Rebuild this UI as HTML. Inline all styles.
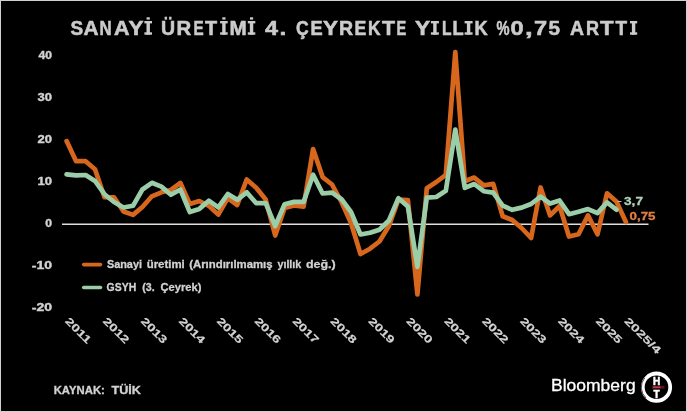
<!DOCTYPE html>
<html><head><meta charset="utf-8"><style>
html,body{margin:0;padding:0;background:#000;}
body{width:687px;height:412px;overflow:hidden;}
svg{display:block;will-change:transform;}
text{font-family:"Liberation Sans", sans-serif;}
.xl{font-size:10.5px;font-weight:bold;fill:#d2d2d2;stroke:#d2d2d2;stroke-width:0.2}
</style></head><body>
<svg width="687" height="412" viewBox="0 0 687 412">
<rect x="0" y="0" width="687" height="412" fill="#000"/>
<rect x="0.5" y="0.5" width="686" height="411" fill="none" stroke="#d0d0d0" stroke-width="1"/>
<line x1="62" y1="224.3" x2="648.5" y2="224.3" stroke="#dedede" stroke-width="1.4"/>
<polyline points="66.6,141.1 76.1,161.2 85.6,161.2 95.0,169.3 104.5,197.2 114.0,197.3 123.5,211.5 133.0,214.9 142.4,207.0 151.9,196.3 161.4,192.3 170.9,190.0 180.4,182.9 189.8,204.0 199.3,201.0 208.8,205.8 218.3,214.6 227.8,198.0 237.2,205.0 246.7,179.5 256.2,187.7 265.7,199.5 275.2,235.5 284.6,208.0 294.1,205.5 303.6,206.7 313.1,149.0 322.6,177.1 332.0,184.5 341.5,202.0 351.0,223.0 360.5,254.0 370.0,248.7 379.4,241.5 388.9,226.0 398.4,199.6 407.9,200.0 417.4,294.5 426.8,188.2 436.3,182.0 445.8,174.8 455.3,52.2 464.8,181.3 474.2,177.5 483.7,185.4 493.2,183.9 502.7,216.3 512.2,220.0 521.6,228.0 531.1,238.0 540.6,187.5 550.1,215.4 559.6,206.0 569.0,236.5 578.5,234.3 588.0,215.4 597.5,234.3 607.0,193.3 616.4,201.5 625.9,222.0" fill="none" stroke="#d7671d" stroke-width="4.7" stroke-linejoin="round" stroke-linecap="round"/>
<polyline points="66.6,174.3 76.1,175.4 85.6,175.0 95.0,181.0 104.5,194.2 114.0,202.0 123.5,207.5 133.0,205.8 142.4,189.5 151.9,182.8 161.4,186.6 170.9,194.8 180.4,189.5 189.8,212.0 199.3,208.9 208.8,200.7 218.3,207.4 227.8,194.0 237.2,199.8 246.7,192.3 256.2,203.2 265.7,203.2 275.2,226.0 284.6,204.3 294.1,201.9 303.6,201.9 313.1,174.7 322.6,193.5 332.0,192.6 341.5,199.2 351.0,212.0 360.5,234.5 370.0,232.7 379.4,229.7 388.9,220.5 398.4,198.2 407.9,206.6 417.4,267.0 426.8,197.6 436.3,197.0 445.8,190.8 455.3,129.5 464.8,187.9 474.2,184.0 483.7,191.2 493.2,192.6 502.7,205.7 512.2,209.8 521.6,207.6 531.1,204.0 540.6,196.6 550.1,203.6 559.6,200.5 569.0,214.2 578.5,211.8 588.0,209.1 597.5,213.1 607.0,202.4 616.4,209.7" fill="none" stroke="#9ccda9" stroke-width="4.7" stroke-linejoin="round" stroke-linecap="round"/>
<line x1="617.5" y1="201.5" x2="621.5" y2="201.5" stroke="#9ccda9" stroke-width="1"/>
<line x1="83.7" y1="264.6" x2="100.5" y2="264.6" stroke="#d7671d" stroke-width="3.6" stroke-linecap="round"/>
<line x1="83.7" y1="287.5" x2="100.5" y2="287.5" stroke="#9ccda9" stroke-width="3.6" stroke-linecap="round"/>
<text x="70.50" y="34.9" textLength="12.69" lengthAdjust="spacingAndGlyphs" style="font-size:19.5px;font-weight:bold;fill:#cbcbcb;stroke:#cbcbcb;stroke-width:0.55">S</text>
<text x="83.50" y="34.9" textLength="15.04" lengthAdjust="spacingAndGlyphs" style="font-size:19.5px;font-weight:bold;fill:#cbcbcb;stroke:#cbcbcb;stroke-width:0.55">A</text>
<text x="99.50" y="34.9" textLength="12.20" lengthAdjust="spacingAndGlyphs" style="font-size:19.5px;font-weight:bold;fill:#cbcbcb;stroke:#cbcbcb;stroke-width:0.55">N</text>
<text x="114.00" y="34.9" textLength="15.54" lengthAdjust="spacingAndGlyphs" style="font-size:19.5px;font-weight:bold;fill:#cbcbcb;stroke:#cbcbcb;stroke-width:0.55">A</text>
<text x="128.50" y="34.9" textLength="15.03" lengthAdjust="spacingAndGlyphs" style="font-size:19.5px;font-weight:bold;fill:#cbcbcb;stroke:#cbcbcb;stroke-width:0.55">Y</text>
<text x="161.00" y="34.9" textLength="14.12" lengthAdjust="spacingAndGlyphs" style="font-size:19.5px;font-weight:bold;fill:#cbcbcb;stroke:#cbcbcb;stroke-width:0.55">Ü</text>
<text x="176.50" y="34.9" textLength="14.71" lengthAdjust="spacingAndGlyphs" style="font-size:19.5px;font-weight:bold;fill:#cbcbcb;stroke:#cbcbcb;stroke-width:0.55">R</text>
<text x="193.50" y="34.9" textLength="10.15" lengthAdjust="spacingAndGlyphs" style="font-size:19.5px;font-weight:bold;fill:#cbcbcb;stroke:#cbcbcb;stroke-width:0.55">E</text>
<text x="205.00" y="34.9" textLength="12.12" lengthAdjust="spacingAndGlyphs" style="font-size:19.5px;font-weight:bold;fill:#cbcbcb;stroke:#cbcbcb;stroke-width:0.55">T</text>
<text x="229.50" y="34.9" textLength="17.19" lengthAdjust="spacingAndGlyphs" style="font-size:19.5px;font-weight:bold;fill:#cbcbcb;stroke:#cbcbcb;stroke-width:0.55">M</text>
<text x="265.00" y="34.9" textLength="13.04" lengthAdjust="spacingAndGlyphs" style="font-size:19.5px;font-weight:bold;fill:#cbcbcb;stroke:#cbcbcb;stroke-width:0.55">4</text>
<text x="279.50" y="34.9" textLength="6.87" lengthAdjust="spacingAndGlyphs" style="font-size:19.5px;font-weight:bold;fill:#cbcbcb;stroke:#cbcbcb;stroke-width:0.55">.</text>
<text x="296.00" y="34.9" textLength="12.68" lengthAdjust="spacingAndGlyphs" style="font-size:19.5px;font-weight:bold;fill:#cbcbcb;stroke:#cbcbcb;stroke-width:0.55">Ç</text>
<text x="310.50" y="34.9" textLength="12.17" lengthAdjust="spacingAndGlyphs" style="font-size:19.5px;font-weight:bold;fill:#cbcbcb;stroke:#cbcbcb;stroke-width:0.55">E</text>
<text x="323.00" y="34.9" textLength="15.03" lengthAdjust="spacingAndGlyphs" style="font-size:19.5px;font-weight:bold;fill:#cbcbcb;stroke:#cbcbcb;stroke-width:0.55">Y</text>
<text x="339.00" y="34.9" textLength="14.11" lengthAdjust="spacingAndGlyphs" style="font-size:19.5px;font-weight:bold;fill:#cbcbcb;stroke:#cbcbcb;stroke-width:0.55">R</text>
<text x="354.50" y="34.9" textLength="11.80" lengthAdjust="spacingAndGlyphs" style="font-size:19.5px;font-weight:bold;fill:#cbcbcb;stroke:#cbcbcb;stroke-width:0.55">E</text>
<text x="368.00" y="34.9" textLength="12.53" lengthAdjust="spacingAndGlyphs" style="font-size:19.5px;font-weight:bold;fill:#cbcbcb;stroke:#cbcbcb;stroke-width:0.55">K</text>
<text x="382.00" y="34.9" textLength="13.03" lengthAdjust="spacingAndGlyphs" style="font-size:19.5px;font-weight:bold;fill:#cbcbcb;stroke:#cbcbcb;stroke-width:0.55">T</text>
<text x="396.50" y="34.9" textLength="9.75" lengthAdjust="spacingAndGlyphs" style="font-size:19.5px;font-weight:bold;fill:#cbcbcb;stroke:#cbcbcb;stroke-width:0.55">E</text>
<text x="415.00" y="34.9" textLength="15.11" lengthAdjust="spacingAndGlyphs" style="font-size:19.5px;font-weight:bold;fill:#cbcbcb;stroke:#cbcbcb;stroke-width:0.55">Y</text>
<text x="442.00" y="34.9" textLength="9.55" lengthAdjust="spacingAndGlyphs" style="font-size:19.5px;font-weight:bold;fill:#cbcbcb;stroke:#cbcbcb;stroke-width:0.55">L</text>
<text x="452.50" y="34.9" textLength="11.16" lengthAdjust="spacingAndGlyphs" style="font-size:19.5px;font-weight:bold;fill:#cbcbcb;stroke:#cbcbcb;stroke-width:0.55">L</text>
<text x="474.50" y="34.9" textLength="13.18" lengthAdjust="spacingAndGlyphs" style="font-size:19.5px;font-weight:bold;fill:#cbcbcb;stroke:#cbcbcb;stroke-width:0.55">K</text>
<text x="496.50" y="34.9" textLength="13.03" lengthAdjust="spacingAndGlyphs" style="font-size:19.5px;font-weight:bold;fill:#cbcbcb;stroke:#cbcbcb;stroke-width:0.55">%</text>
<text x="510.50" y="34.9" textLength="13.09" lengthAdjust="spacingAndGlyphs" style="font-size:19.5px;font-weight:bold;fill:#cbcbcb;stroke:#cbcbcb;stroke-width:0.55">0</text>
<text x="525.00" y="34.9" textLength="7.66" lengthAdjust="spacingAndGlyphs" style="font-size:19.5px;font-weight:bold;fill:#cbcbcb;stroke:#cbcbcb;stroke-width:0.55">,</text>
<text x="534.00" y="34.9" textLength="13.13" lengthAdjust="spacingAndGlyphs" style="font-size:19.5px;font-weight:bold;fill:#cbcbcb;stroke:#cbcbcb;stroke-width:0.55">7</text>
<text x="548.50" y="34.9" textLength="11.54" lengthAdjust="spacingAndGlyphs" style="font-size:19.5px;font-weight:bold;fill:#cbcbcb;stroke:#cbcbcb;stroke-width:0.55">5</text>
<text x="570.00" y="34.9" textLength="14.03" lengthAdjust="spacingAndGlyphs" style="font-size:19.5px;font-weight:bold;fill:#cbcbcb;stroke:#cbcbcb;stroke-width:0.55">A</text>
<text x="586.00" y="34.9" textLength="13.05" lengthAdjust="spacingAndGlyphs" style="font-size:19.5px;font-weight:bold;fill:#cbcbcb;stroke:#cbcbcb;stroke-width:0.55">R</text>
<text x="600.00" y="34.9" textLength="13.59" lengthAdjust="spacingAndGlyphs" style="font-size:19.5px;font-weight:bold;fill:#cbcbcb;stroke:#cbcbcb;stroke-width:0.55">T</text>
<text x="615.50" y="34.9" textLength="11.57" lengthAdjust="spacingAndGlyphs" style="font-size:19.5px;font-weight:bold;fill:#cbcbcb;stroke:#cbcbcb;stroke-width:0.55">T</text>
<text x="38.60" y="59.0" textLength="13.47" lengthAdjust="spacingAndGlyphs" style="font-size:10px;font-weight:bold;fill:#d2d2d2;stroke:#d2d2d2;stroke-width:0.35">40</text>
<text x="37.60" y="101.0" textLength="14.50" lengthAdjust="spacingAndGlyphs" style="font-size:10px;font-weight:bold;fill:#d2d2d2;stroke:#d2d2d2;stroke-width:0.35">30</text>
<text x="37.60" y="143.0" textLength="14.50" lengthAdjust="spacingAndGlyphs" style="font-size:10px;font-weight:bold;fill:#d2d2d2;stroke:#d2d2d2;stroke-width:0.35">20</text>
<text x="37.60" y="185.0" textLength="14.50" lengthAdjust="spacingAndGlyphs" style="font-size:10px;font-weight:bold;fill:#d2d2d2;stroke:#d2d2d2;stroke-width:0.35">10</text>
<text x="45.30" y="227.0" textLength="6.77" lengthAdjust="spacingAndGlyphs" style="font-size:10px;font-weight:bold;fill:#d2d2d2;stroke:#d2d2d2;stroke-width:0.35">0</text>
<text x="31.80" y="269.0" textLength="20.27" lengthAdjust="spacingAndGlyphs" style="font-size:10px;font-weight:bold;fill:#d2d2d2;stroke:#d2d2d2;stroke-width:0.35">-10</text>
<text x="31.80" y="311.0" textLength="20.27" lengthAdjust="spacingAndGlyphs" style="font-size:10px;font-weight:bold;fill:#d2d2d2;stroke:#d2d2d2;stroke-width:0.35">-20</text>
<text x="106.90" y="267.9" textLength="35.12" lengthAdjust="spacingAndGlyphs" style="font-size:11.5px;font-weight:bold;fill:#d2d2d2;stroke:#d2d2d2;stroke-width:0.3">Sanayi</text>
<text x="146.70" y="267.9" textLength="38.06" lengthAdjust="spacingAndGlyphs" style="font-size:11.5px;font-weight:bold;fill:#d2d2d2;stroke:#d2d2d2;stroke-width:0.3">üretimi</text>
<text x="189.20" y="267.9" textLength="83.42" lengthAdjust="spacingAndGlyphs" style="font-size:11.5px;font-weight:bold;fill:#d2d2d2;stroke:#d2d2d2;stroke-width:0.3">(Arındırılmamış</text>
<text x="277.40" y="267.9" textLength="23.96" lengthAdjust="spacingAndGlyphs" style="font-size:11.5px;font-weight:bold;fill:#d2d2d2;stroke:#d2d2d2;stroke-width:0.3">yıllık</text>
<text x="305.90" y="267.9" textLength="29.81" lengthAdjust="spacingAndGlyphs" style="font-size:11.5px;font-weight:bold;fill:#d2d2d2;stroke:#d2d2d2;stroke-width:0.3">değ.)</text>
<text x="106.60" y="290.8" textLength="29.57" lengthAdjust="spacingAndGlyphs" style="font-size:11.5px;font-weight:bold;fill:#d2d2d2;stroke:#d2d2d2;stroke-width:0.3">GSYH</text>
<text x="142.30" y="290.8" textLength="12.43" lengthAdjust="spacingAndGlyphs" style="font-size:11.5px;font-weight:bold;fill:#d2d2d2;stroke:#d2d2d2;stroke-width:0.3">(3.</text>
<text x="160.40" y="290.8" textLength="41.05" lengthAdjust="spacingAndGlyphs" style="font-size:11.5px;font-weight:bold;fill:#d2d2d2;stroke:#d2d2d2;stroke-width:0.3">Çeyrek)</text>
<text x="53.70" y="394.0" textLength="51.15" lengthAdjust="spacingAndGlyphs" style="font-size:10.7px;font-weight:bold;fill:#d2d2d2;stroke:#d2d2d2;stroke-width:0.3">KAYNAK:</text>
<text x="111.50" y="394.0" textLength="29.42" lengthAdjust="spacingAndGlyphs" style="font-size:10.7px;font-weight:bold;fill:#d2d2d2;stroke:#d2d2d2;stroke-width:0.3">TÜİK</text>
<text x="551.00" y="391.2" textLength="84.66" lengthAdjust="spacingAndGlyphs" style="font-size:17px;fill:#fff;stroke:#fff;stroke-width:0.3">Bloomberg</text>
<text x="624.00" y="205.0" textLength="19.00" lengthAdjust="spacingAndGlyphs" style="font-size:11px;font-weight:bold;fill:#aed4b6;stroke:#aed4b6;stroke-width:0.3">3,7</text>
<text x="629.60" y="220" textLength="25.91" lengthAdjust="spacingAndGlyphs" style="font-size:11px;font-weight:bold;fill:#e57f45;stroke:#e57f45;stroke-width:0.3">0,75</text>
<rect x="144.40" y="21.0" width="7.60" height="2.4" fill="#cbcbcb"/><rect x="144.40" y="32.3" width="7.60" height="2.4" fill="#cbcbcb"/><rect x="146.50" y="21.0" width="3.4" height="13.7" fill="#cbcbcb"/><rect x="146.60" y="17.3" width="3.2" height="2.3" fill="#cbcbcb"/>
<rect x="220.10" y="21.0" width="7.60" height="2.4" fill="#cbcbcb"/><rect x="220.10" y="32.3" width="7.60" height="2.4" fill="#cbcbcb"/><rect x="222.20" y="21.0" width="3.4" height="13.7" fill="#cbcbcb"/><rect x="222.30" y="17.3" width="3.2" height="2.3" fill="#cbcbcb"/>
<rect x="247.80" y="21.0" width="7.50" height="2.4" fill="#cbcbcb"/><rect x="247.80" y="32.3" width="7.50" height="2.4" fill="#cbcbcb"/><rect x="249.85" y="21.0" width="3.4" height="13.7" fill="#cbcbcb"/><rect x="249.95" y="17.3" width="3.2" height="2.3" fill="#cbcbcb"/>
<rect x="430.90" y="21.0" width="8.00" height="2.4" fill="#cbcbcb"/><rect x="430.90" y="32.3" width="8.00" height="2.4" fill="#cbcbcb"/><rect x="433.20" y="21.0" width="3.4" height="13.7" fill="#cbcbcb"/>
<rect x="464.60" y="21.0" width="8.00" height="2.4" fill="#cbcbcb"/><rect x="464.60" y="32.3" width="8.00" height="2.4" fill="#cbcbcb"/><rect x="466.90" y="21.0" width="3.4" height="13.7" fill="#cbcbcb"/>
<rect x="630.00" y="21.0" width="7.20" height="2.4" fill="#cbcbcb"/><rect x="630.00" y="32.3" width="7.20" height="2.4" fill="#cbcbcb"/><rect x="631.90" y="21.0" width="3.4" height="13.7" fill="#cbcbcb"/>

<text transform="translate(69.7,316.4) rotate(45)" x="0" y="7.4" textLength="32" lengthAdjust="spacingAndGlyphs" class="xl">2011</text>
<text transform="translate(107.6,316.4) rotate(45)" x="0" y="7.4" textLength="32" lengthAdjust="spacingAndGlyphs" class="xl">2012</text>
<text transform="translate(145.5,316.4) rotate(45)" x="0" y="7.4" textLength="32" lengthAdjust="spacingAndGlyphs" class="xl">2013</text>
<text transform="translate(183.5,316.4) rotate(45)" x="0" y="7.4" textLength="32" lengthAdjust="spacingAndGlyphs" class="xl">2014</text>
<text transform="translate(221.4,316.4) rotate(45)" x="0" y="7.4" textLength="32" lengthAdjust="spacingAndGlyphs" class="xl">2015</text>
<text transform="translate(259.3,316.4) rotate(45)" x="0" y="7.4" textLength="32" lengthAdjust="spacingAndGlyphs" class="xl">2016</text>
<text transform="translate(297.2,316.4) rotate(45)" x="0" y="7.4" textLength="32" lengthAdjust="spacingAndGlyphs" class="xl">2017</text>
<text transform="translate(335.1,316.4) rotate(45)" x="0" y="7.4" textLength="32" lengthAdjust="spacingAndGlyphs" class="xl">2018</text>
<text transform="translate(373.1,316.4) rotate(45)" x="0" y="7.4" textLength="32" lengthAdjust="spacingAndGlyphs" class="xl">2019</text>
<text transform="translate(411.0,316.4) rotate(45)" x="0" y="7.4" textLength="32" lengthAdjust="spacingAndGlyphs" class="xl">2020</text>
<text transform="translate(448.9,316.4) rotate(45)" x="0" y="7.4" textLength="32" lengthAdjust="spacingAndGlyphs" class="xl">2021</text>
<text transform="translate(486.8,316.4) rotate(45)" x="0" y="7.4" textLength="32" lengthAdjust="spacingAndGlyphs" class="xl">2022</text>
<text transform="translate(524.7,316.4) rotate(45)" x="0" y="7.4" textLength="32" lengthAdjust="spacingAndGlyphs" class="xl">2023</text>
<text transform="translate(562.7,316.4) rotate(45)" x="0" y="7.4" textLength="32" lengthAdjust="spacingAndGlyphs" class="xl">2024</text>
<text transform="translate(600.6,316.4) rotate(45)" x="0" y="7.4" textLength="32" lengthAdjust="spacingAndGlyphs" class="xl">2025</text>
<text transform="translate(629.0,316.4) rotate(45)" x="0" y="7.4" textLength="46.5" lengthAdjust="spacingAndGlyphs" class="xl">2025/4</text>

<circle cx="656.5" cy="387.2" r="13.7" fill="#000" stroke="#fff" stroke-width="3.8"/>
<path d="M644.6,378 A14.6,14.6 0 0 0 646,398" fill="none" stroke="#000" stroke-width="0.7"/>
<text x="656.5" y="384.7" text-anchor="middle" style="font-size:10px;font-weight:bold;fill:#fff;stroke:#fff;stroke-width:0.5">H</text>
<text x="656.5" y="398.0" text-anchor="middle" style="font-size:10px;font-weight:bold;fill:#fff;stroke:#fff;stroke-width:0.5">T</text>
<line x1="652.3" y1="387.2" x2="664.5" y2="387.2" stroke="#5e1019" stroke-width="3"/>
<line x1="652.8" y1="387.2" x2="660.5" y2="387.2" stroke="#c24a5a" stroke-width="1.3"/>
</svg>
</body></html>
